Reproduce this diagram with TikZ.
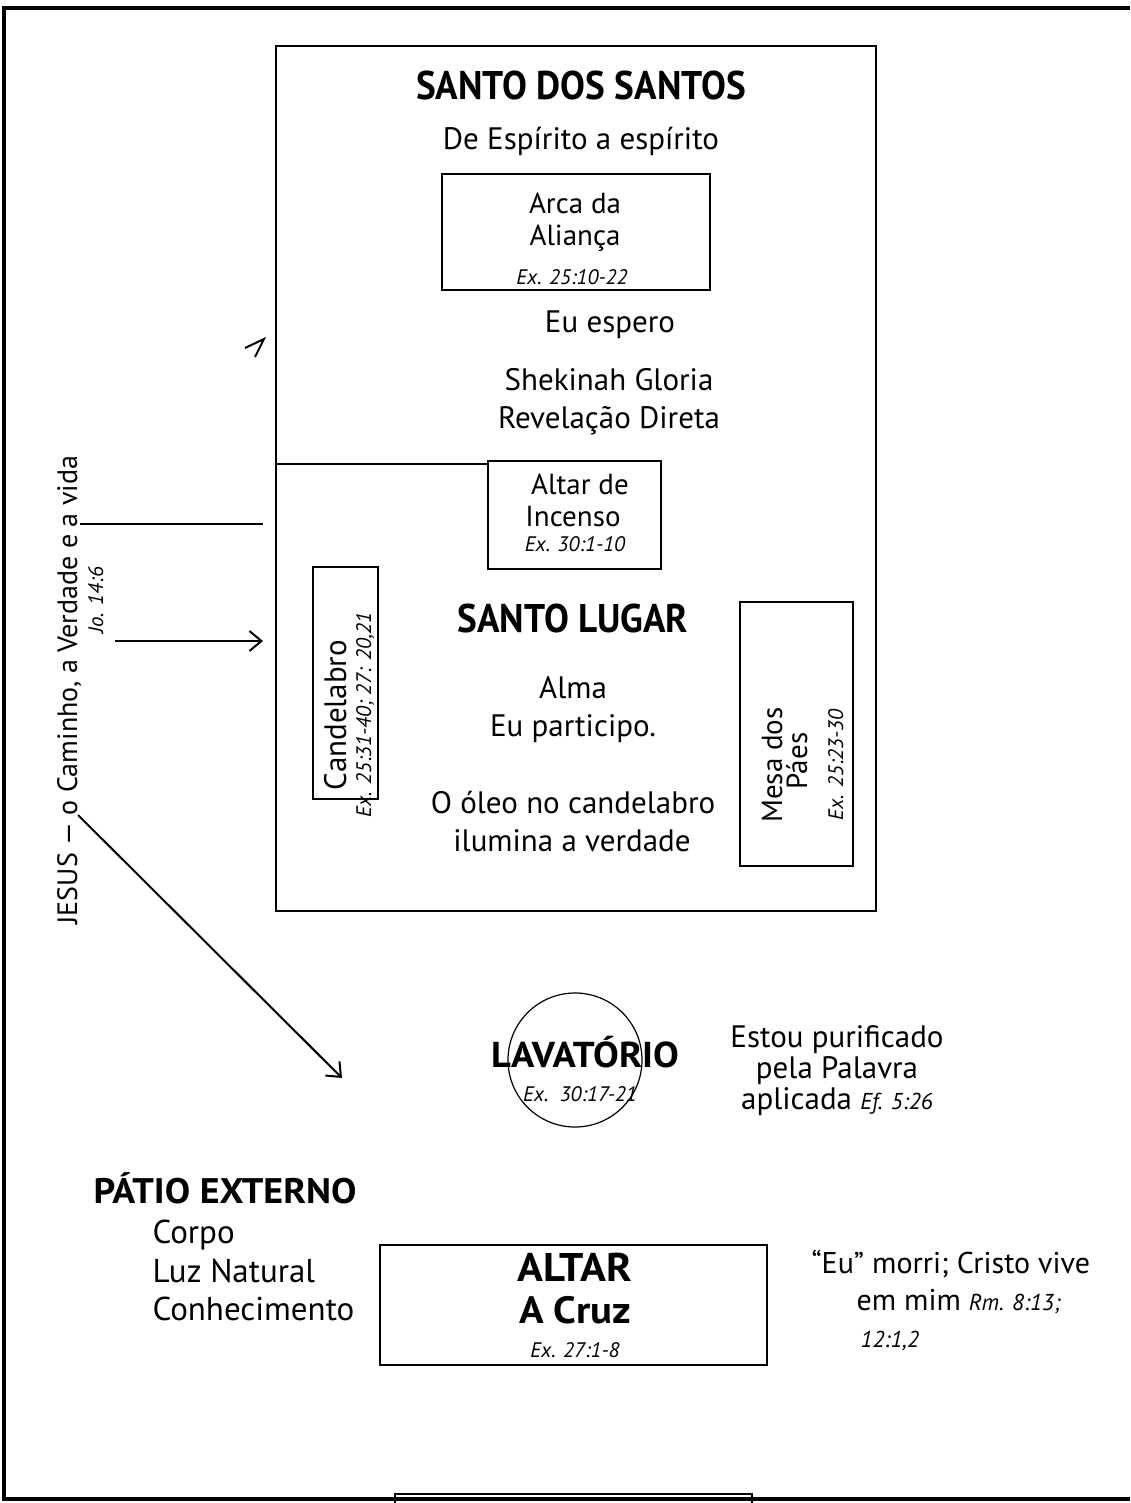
\documentclass[tikz,border=0pt]{standalone}
\usepackage{fontspec}
\setmainfont{PT Sans}
\newfontfamily\headfont[FakeStretch=0.93]{PT Sans}
\newfontfamily\headwide[FakeStretch=1.07]{PT Sans}
\usetikzlibrary{arrows.meta}

\tikzset{
	wall/.style={line width=2.5pt},
	item/.style={draw, line width=1.2pt},
	txt/.style={anchor=base, font=\fontsize{31}{36}\selectfont},
	boxtxt/.style={anchor=base, font=\fontsize{29}{34}\selectfont},
	verse/.style={anchor=base, font=\fontsize{21}{25}\selectfont\itshape},
	title/.style={anchor=base, font=\headfont\bfseries\fontsize{40}{46}\selectfont},
	widetitle/.style={anchor=base, font=\headwide\bfseries\fontsize{35.5}{42}\selectfont},
	>={Straight Barb[length=12pt,width=20pt]}
}

\begin{document}
\begin{tikzpicture}[x=1pt,y=-1pt]
	\useasboundingbox (0,0) rectangle (1130,1503);
	%court
		\draw[line width=3.5pt] (1130,8) -- (4,8) -- (4,1499) -- (1130,1499);
		\draw[wall] (395,1503) -- (395,1494) -- (752,1494) -- (752,1503);
	%tabernacle
		\draw[wall] (276,46) rectangle (876,911);
		\node[item, minimum width=268pt, minimum height=116pt] (arca) at (576,232) {};
		\node[item, minimum width=173pt, minimum height=108pt] (incenso) at (574.5,515) {};
		\node[item, minimum width=65pt, minimum height=232pt] (candelabro) at (345.5,683) {};
		\node[item, minimum width=113pt, minimum height=264pt] (mesa) at (796.5,734) {};
		\coordinate (veil) at (276,464);
		\draw[wall] (veil) -- (veil -| incenso.west);
	%santo dos santos
		\node[title] (sds) at (581,100) {SANTO DOS SANTOS};
		\node[txt] (espirito) at (581,150) {De Espírito a espírito};
		\node[boxtxt] (arca1) at (575,214) {Arca da};
		\node[boxtxt] (arca2) at (575,246) {Aliança};
		\node[verse] (arca3) at (572,285) {Ex. 25:10-22};
		\node[txt] (espero) at (610,332) {Eu espero};
		\node[txt] (gloria) at (609,390) {Shekinah Gloria};
		\node[txt] (revel) at (609,428) {Revelação Direta};
	%santo lugar
		\node[boxtxt] (inc1) at (580,494) {Altar de};
		\node[boxtxt] (inc2) at (573,526) {Incenso};
		\node[verse] (inc3) at (575,551) {Ex. 30:1-10};
		\node[title] (sl) at (573,632) {SANTO LUGAR};
		\node[txt] (alma) at (573,698) {Alma};
		\node[txt] (particip) at (573,736) {Eu participo.};
		\node[txt] (oleo) at (573,813) {O óleo no candelabro};
		\node[txt] (ilumina) at (572,851) {ilumina a verdade};
		\node[txt, rotate=90] (cand1) at (346,715) {Candelabro};
		\node[verse, rotate=90] (cand2) at (371,715) {Ex. 25:31-40; 27: 20,21};
		\node[boxtxt, rotate=90] (mesa1) at (782,765) {Mesa dos};
		\node[boxtxt, rotate=90] (mesa2) at (807,761) {Páes};
		\node[verse, rotate=90] (mesa3) at (843,765) {Ex. 25:23-30};
	%lavatorio
		\node[draw, circle, line width=1.2pt, minimum size=134pt] (bacia) at (575,1060) {};
		\node[widetitle, font=\headwide\bfseries\fontsize{36}{40}\selectfont] (lav) at (585,1067) {LAVATÓRIO};
		\node[verse] (lav2) at (580,1101) {Ex.\ \ 30:17-21};
		\node[txt] (puri1) at (837,1047) {Estou purificado};
		\node[txt] (puri2) at (837,1078) {pela Palavra};
		\node[txt] (puri3) at (837,1109) {aplicada {\itshape\fontsize{23}{26}\selectfont Ef. 5:26}};
	%patio
		\node[widetitle, anchor=base west] (patio) at (90,1203) {PÁTIO EXTERNO};
		\node[txt, anchor=base west, font=\fontsize{33}{38}\selectfont] (corpo) at (149,1243) {Corpo};
		\node[txt, anchor=base west, font=\fontsize{33}{38}\selectfont] (luz) at (149,1282) {Luz Natural};
		\node[txt, anchor=base west, font=\fontsize{33}{38}\selectfont] (conhec) at (149,1320) {Conhecimento};
	%altar
		\node[item, minimum width=387pt, minimum height=120pt] (altar) at (573.5,1305) {};
		\node[widetitle, font=\headwide\bfseries\fontsize{40}{46}\selectfont] (altar1) at (575,1281) {ALTAR};
		\node[widetitle, font=\headwide\bfseries\fontsize{38}{44}\selectfont] (altar2) at (575,1323) {A Cruz};
		\node[verse] (altar3) at (575,1357) {Ex. 27:1-8};
		\node[txt, anchor=base west, font=\fontsize{30}{36}\selectfont] (morri1) at (808,1273) {“Eu” morri; Cristo vive};
		\node[txt, anchor=base west, font=\fontsize{30}{36}\selectfont] (morri2) at (853,1310) {em mim {\itshape\fontsize{23}{26}\selectfont Rm. 8:13;}};
		\node[verse, anchor=base west, font=\fontsize{23}{26}\selectfont\itshape] (morri3) at (857,1347) {12:1,2};
	%jesus
		\node[txt, rotate=90, font=\fontsize{28}{34}\selectfont] (jesus) at (77,690) {JESUS — o Caminho, a Verdade e a vida};
		\node[verse, rotate=90] (jo) at (103,600) {Jo. 14:6};
		\coordinate (way1) at (80,524);
		\coordinate (way2) at (115,641);
		\coordinate (way3) at (78,815);
		\coordinate (door) at (263,524);
		\coordinate (holy) at (263,641);
		\coordinate (court) at (342,1078);
		\draw[line width=2pt] (way1) -- (door);
		\draw[line width=2pt, ->] (way2) -- (holy);
		\draw[line width=2pt, ->] (way3) -- (court);
		%loose tip
		\draw[line width=2pt] (245,348) -- (264,339) -- (255,357);
\end{tikzpicture}
\end{document}
